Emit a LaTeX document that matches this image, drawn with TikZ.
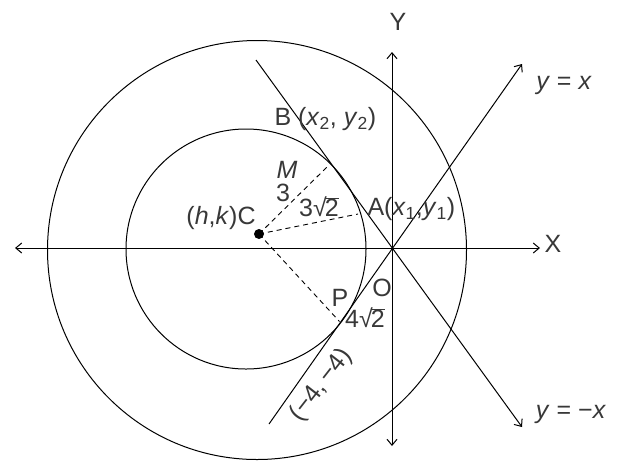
\documentclass[tikz,border=0pt]{standalone}
\usepackage{fontspec}
\setmainfont{Liberation Sans}
\usetikzlibrary{arrows.meta}
\newcommand\sbs[1]{\textsubscript{#1}}
\newcommand\rt[1]{√\kern-0.08em$\overline{\mbox{#1}}$}
\begin{document}
\begin{tikzpicture}[x=1pt,y=-1pt, line width=1pt,
  lbl/.style={text=black!78, font=\fontsize{25}{28}\selectfont, inner sep=0pt},
  axis/.style={{Straight Barb[length=6pt,width=10pt]}-{Straight Barb[length=6pt,width=10pt]}},
  arr/.style={-{Straight Barb[length=6pt,width=10pt]}},
  dsh/.style={dash pattern=on 5pt off 4pt, line width=0.9pt}]
\useasboundingbox (0,0) rectangle (623,467);
% circles
\draw (257,250) circle[radius=209.5pt];
\draw (246,249) circle[radius=120pt];
% axes
\coordinate (xl) at (15,248); \coordinate (xr) at (540,248);
\coordinate (yt) at (392,52);  \coordinate (yb) at (392,446);
\draw[axis] (xl) -- (xr);
\draw[axis] (yb) -- (yt);
% lines y=-x and y=x
\coordinate (l1s) at (256,60);  \coordinate (l1e) at (522,427);
\coordinate (l2s) at (269,424); \coordinate (l2e) at (522,64);
\draw[arr] (l1s) -- (l1e);
\draw[arr] (l2s) -- (l2e);
% centre and radii
\node[circle, fill=black, inner sep=0pt, minimum size=10pt] (C) at (259,234) {};
\coordinate (M) at (327,167);
\coordinate (A) at (358,214);
\coordinate (P) at (339.5,321.5);
\draw[dsh] (C.center) -- (M);
\draw[dsh] (C.center) -- (A);
\draw[dsh] (C.center) -- (P);
% labels
\node[lbl] (tY) at (398,22) {Y};
\node[lbl] (tyx) at (564,85) {\textit{y} = \textit{x}};
\node[lbl] (tymx) at (571,414) {\textit{y} = −\textit{x}};
\node[lbl] (tX) at (553,244) {X};
\node[lbl, anchor=west] (tB) at (274,119) {B (\textit{x}\sbs{2}, \textit{y}\sbs{2})};
\node[lbl] (tM) at (287,170) {\textit{M}};
\node[lbl] (t3) at (283,193) {3};
\node[lbl] (t3r) at (319,207) {3\rt{2}};
\node[lbl, anchor=west] (tA) at (367,209) {A(\textit{x}\sbs{1},\textit{y}\sbs{1})};
\node[lbl] (tC) at (221,218) {(\textit{h},\textit{k})C};
\node[lbl] (tP) at (340,298) {P};
\node[lbl] (tO) at (382,288) {O};
\node[lbl] (t4r) at (365,318) {4\rt{2}};
\node[lbl, rotate=52] (t44) at (321,385) {(−4,\,−4)};
\end{tikzpicture}
\end{document}
